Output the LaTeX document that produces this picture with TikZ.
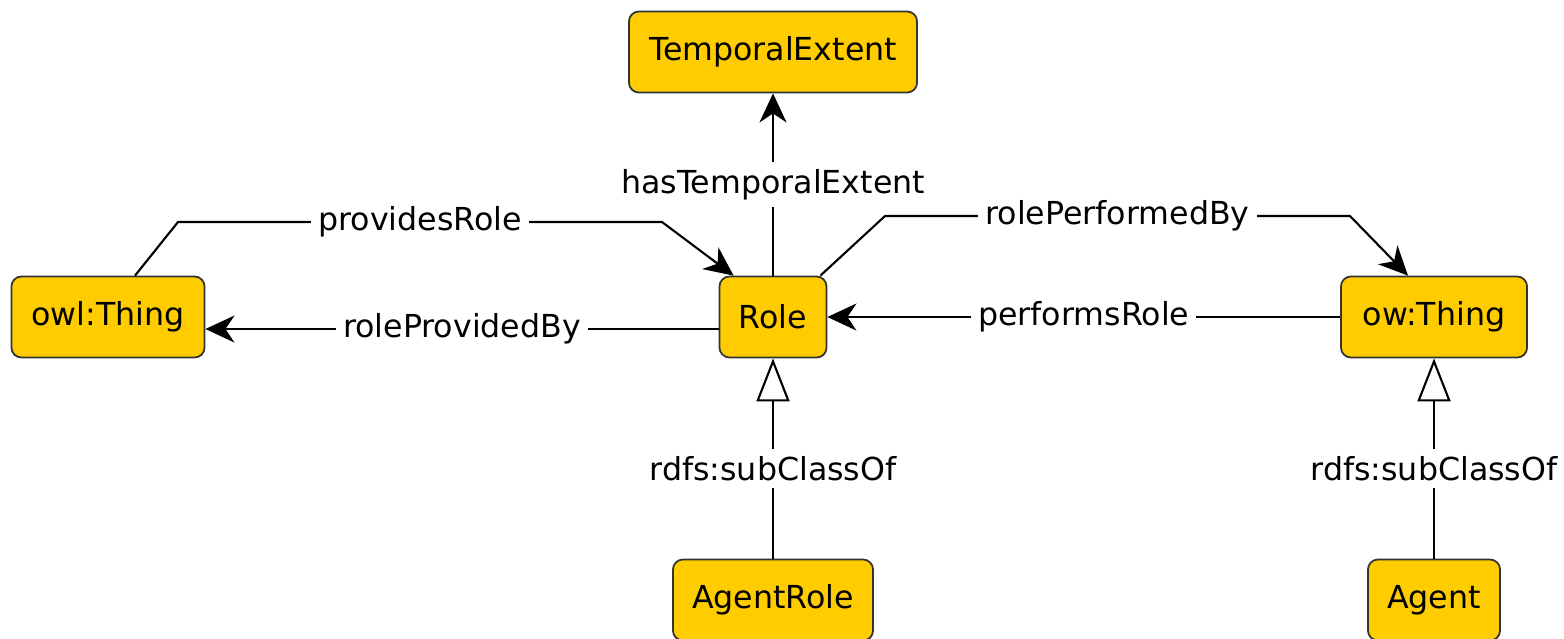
\documentclass[tikz,border=0pt]{standalone}
\usepackage{fontspec}
\setmainfont{DejaVu Sans}
\usetikzlibrary{arrows.meta,positioning}

\begin{document}
\begin{tikzpicture}[x=0.01cm,y=-0.01cm]
% colore di riempimento delle classi
\definecolor{giallo}{HTML}{FFCC00}
% caratteristiche dei nodi
\tikzset{classe/.style={rectangle,rounded corners=0.1cm,draw=black!80,line width=0.5pt,fill=giallo,minimum height=0.81cm,font=\fontsize{9}{11}\selectfont}}
% frecce e etichette
\tikzset{freccia/.style={draw=black,line width=0.6pt,-{Stealth[length=0.29cm,width=0.27cm,inset=0.09cm]}}}
\tikzset{sottoclasse/.style={draw=black,line width=0.6pt,-{Triangle[open,length=0.43cm,width=0.33cm,fill=white]}}}
\tikzset{etichetta/.style={fill=white,inner sep=2pt,font=\fontsize{9}{11}\selectfont}}

\useasboundingbox (0,0) rectangle (1564,638);
\clip (0,0) rectangle (1564,638);

%----
% inserimento nodi
\node[classe,minimum width=2.88cm] (temporal) at (773,52) {TemporalExtent};
\node[classe,minimum width=1.93cm] (owl) at (108,317) {owl:Thing};
\node[classe,minimum width=1.07cm] (role) at (773,317) {Role};
\node[classe,minimum width=1.86cm] (ow) at (1434,317) {ow:Thing};
\node[classe,minimum width=2.00cm] (agentrole) at (773,600) {AgentRole};
\node[classe,minimum width=1.32cm] (agent) at (1434,600) {Agent};

% punti di piega
\coordinate (p1) at (178,222);
\coordinate (p2) at (662,222);
\coordinate (q1) at (885,216);
\coordinate (q2) at (1350,216);

% inserimento proprieta
\draw[freccia] ([xshift=0.27cm]owl.north) -- (p1) -- node[etichetta] {providesRole} (p2) -- ([xshift=0.15cm]role.north west);
\draw[freccia] ([yshift=-0.12cm]role.west) -- node[etichetta] {roleProvidedBy} ([yshift=-0.12cm]owl.east);
\draw[freccia] (role) -- node[etichetta] {hasTemporalExtent} (temporal);
\draw[freccia] ([xshift=-0.07cm]role.north east) -- (q1) -- node[etichetta] {rolePerformedBy} (q2) -- ([xshift=-0.26cm]ow.north);
\draw[freccia] (ow) -- node[etichetta] {performsRole} (role);

% inserimento sottoclassi
\foreach \figlia/\madre in {agentrole/role,agent/ow}
\draw[sottoclasse] (\figlia) -- node[etichetta,pos=0.45] {rdfs:subClassOf} (\madre);
\end{tikzpicture}
\end{document}
